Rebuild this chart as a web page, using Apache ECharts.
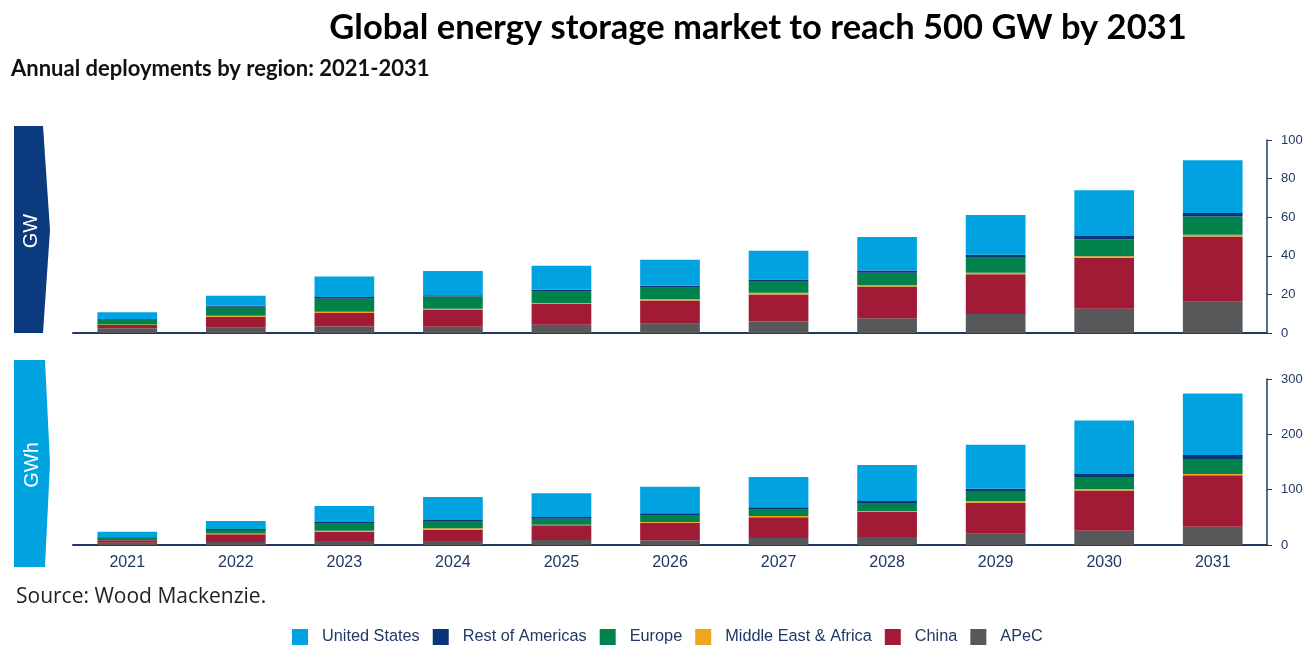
<!DOCTYPE html>
<html>
<head>
<meta charset="utf-8">
<script src="https://cdn.jsdelivr.net/npm/echarts@6/dist/echarts.min.js"></script>
<style>
html,body{margin:0;padding:0;background:#fff;}
#chart{width:1310px;height:665px;}
</style>
</head>
<body>
<div id="chart"></div>
<script>
// Categories
var years = ['2021','2022','2023','2024','2025','2026','2027','2028','2029','2030','2031'];
var regionNames = ['United States','Rest of Americas','Europe','Middle East & Africa','China','APeC'];

// GW (annual deployments)
var apecGW   = [2.4, 2.7, 3.4, 3.3, 4.3, 4.8, 6.0, 7.6, 9.8, 12.6, 16.2];
var chinaGW  = [1.7, 5.7, 6.9, 8.6, 10.7, 12.0, 14.0, 16.5, 20.7, 26.4, 33.8];
var meaGW    = [0.3, 0.6, 0.7, 0.7, 0.5, 0.8, 0.8, 0.7, 0.7, 0.8, 0.9];
var europeGW = [2.5, 4.6, 6.7, 6.3, 5.9, 5.8, 6.1, 6.4, 7.8, 8.6, 9.4];
var roaGW    = [0.4, 0.5, 0.9, 0.6, 1.0, 1.1, 0.8, 1.2, 1.5, 1.9, 1.9];
var usGW     = [3.4, 5.2, 10.7, 12.6, 12.4, 13.5, 14.9, 17.4, 20.7, 23.7, 27.3];

// GWh (annual deployments)
var apecGWh   = [4.0, 5.4, 7.2, 7.2, 9.0, 8.4, 12.7, 14.5, 20.4, 25.9, 33.1];
var chinaGWh  = [4.5, 14.0, 16.9, 20.5, 26.6, 31.9, 37.4, 45.2, 56.1, 72.4, 92.9];
var meaGWh    = [0.3, 1.5, 1.8, 2.5, 1.1, 1.3, 2.3, 1.8, 2.5, 3.0, 2.4];
var europeGWh = [4.0, 6.2, 13.9, 13.2, 10.9, 12.6, 11.5, 14.4, 18.6, 21.7, 27.1];
var roaGWh    = [1.0, 1.8, 1.8, 1.8, 3.0, 3.1, 4.3, 3.7, 4.2, 5.4, 7.2];
var usGWh     = [10.0, 14.5, 28.9, 41.6, 42.9, 48.1, 54.8, 65.1, 79.6, 96.4, 110.9];

// Axis ticks
var gwMax = 100, gwInterval = 20;
var gwhMax = 300, gwhInterval = 100;

var colors = {
  'United States': '#00a3e0',
  'Rest of Americas': '#0b3479',
  'Europe': '#00824a',
  'Middle East & Africa': '#eaa81e',
  'China': '#a11b36',
  'APeC': '#57585a'
};
var navy = '#1f3864';

var gwData = {'APeC': apecGW, 'China': chinaGW, 'Middle East & Africa': meaGW, 'Europe': europeGW, 'Rest of Americas': roaGW, 'United States': usGW};
var gwhData = {'APeC': apecGWh, 'China': chinaGWh, 'Middle East & Africa': meaGWh, 'Europe': europeGWh, 'Rest of Americas': roaGWh, 'United States': usGWh};
var stackOrder = ['APeC','China','Middle East & Africa','Europe','Rest of Americas','United States'];

var series = [];
stackOrder.forEach(function(name){
  series.push({name:name, type:'bar', stack:'gw', xAxisIndex:0, yAxisIndex:0, barWidth:'55%',
    itemStyle:{color:colors[name]}, data:gwData[name]});
});
stackOrder.forEach(function(name){
  series.push({name:name, type:'bar', stack:'gwh', xAxisIndex:1, yAxisIndex:1, barWidth:'55%',
    itemStyle:{color:colors[name]}, data:gwhData[name]});
});

var chart = echarts.init(document.getElementById('chart'));
chart.setOption({
  animation:false,
  backgroundColor:'#fff',
  title:[
    {text:'Global energy storage market to reach 500 GW by 2031', left:753, textAlign:'center', top:5,
     textStyle:{fontFamily:'Lato', fontWeight:'bold', fontSize:34.5, color:'#000'}},
    {text:'Annual deployments by region: 2021-2031', left:6, top:53,
     textStyle:{fontFamily:'Lato', fontWeight:'bold', fontSize:22, color:'#111'}},
    {text:'Source: Wood Mackenzie.', left:11, top:582,
     textStyle:{fontFamily:'Open Sans', fontWeight:'normal', fontSize:21, color:'#222'}}
  ],
  legend:{
    data:regionNames, left:287, top:624, itemWidth:16, itemHeight:16, itemGap:13, icon:'rect',
    textStyle:{fontFamily:'Liberation Sans', fontSize:16.3, color:navy, padding:[0,0,0,9]}
  },
  grid:[
    {left:73, right:43, top:140, height:193},
    {left:73, right:43, top:379, height:166}
  ],
  xAxis:[
    {type:'category', gridIndex:0, data:years, axisLine:{lineStyle:{color:navy, width:2}}, axisTick:{show:false}, axisLabel:{show:false}},
    {type:'category', gridIndex:1, data:years, axisLine:{lineStyle:{color:navy, width:2}}, axisTick:{show:false},
     axisLabel:{fontFamily:'Liberation Sans', fontSize:16, color:navy, margin:10}}
  ],
  yAxis:[
    {type:'value', gridIndex:0, position:'right', min:0, max:gwMax, interval:gwInterval,
     axisLine:{show:true, lineStyle:{color:navy, width:1.5}}, axisTick:{show:true, length:5, lineStyle:{color:navy}},
     splitLine:{show:false}, axisLabel:{fontFamily:'Liberation Sans', fontSize:13, color:navy, margin:14}},
    {type:'value', gridIndex:1, position:'right', min:0, max:gwhMax, interval:gwhInterval,
     axisLine:{show:true, lineStyle:{color:navy, width:1.5}}, axisTick:{show:true, length:5, lineStyle:{color:navy}},
     splitLine:{show:false}, axisLabel:{fontFamily:'Liberation Sans', fontSize:13, color:navy, margin:14}}
  ],
  graphic:[
    {type:'polygon', shape:{points:[[14,126],[43,126],[50,230],[43,333],[14,333]]}, style:{fill:'#0b3a7e'}},
    {type:'text', x:31, y:231, rotation:Math.PI/2,
     style:{text:'GW', fill:'#fff', font:'20px "Liberation Sans"', textAlign:'center', textVerticalAlign:'middle'}},
    {type:'polygon', shape:{points:[[14,360],[45,360],[50,463],[45,567],[14,567]]}, style:{fill:'#00a3e0'}},
    {type:'text', x:32, y:465, rotation:Math.PI/2,
     style:{text:'GWh', fill:'#fff', font:'20px "Liberation Sans"', textAlign:'center', textVerticalAlign:'middle'}}
  ],
  series:series
});
</script>
</body>
</html>
